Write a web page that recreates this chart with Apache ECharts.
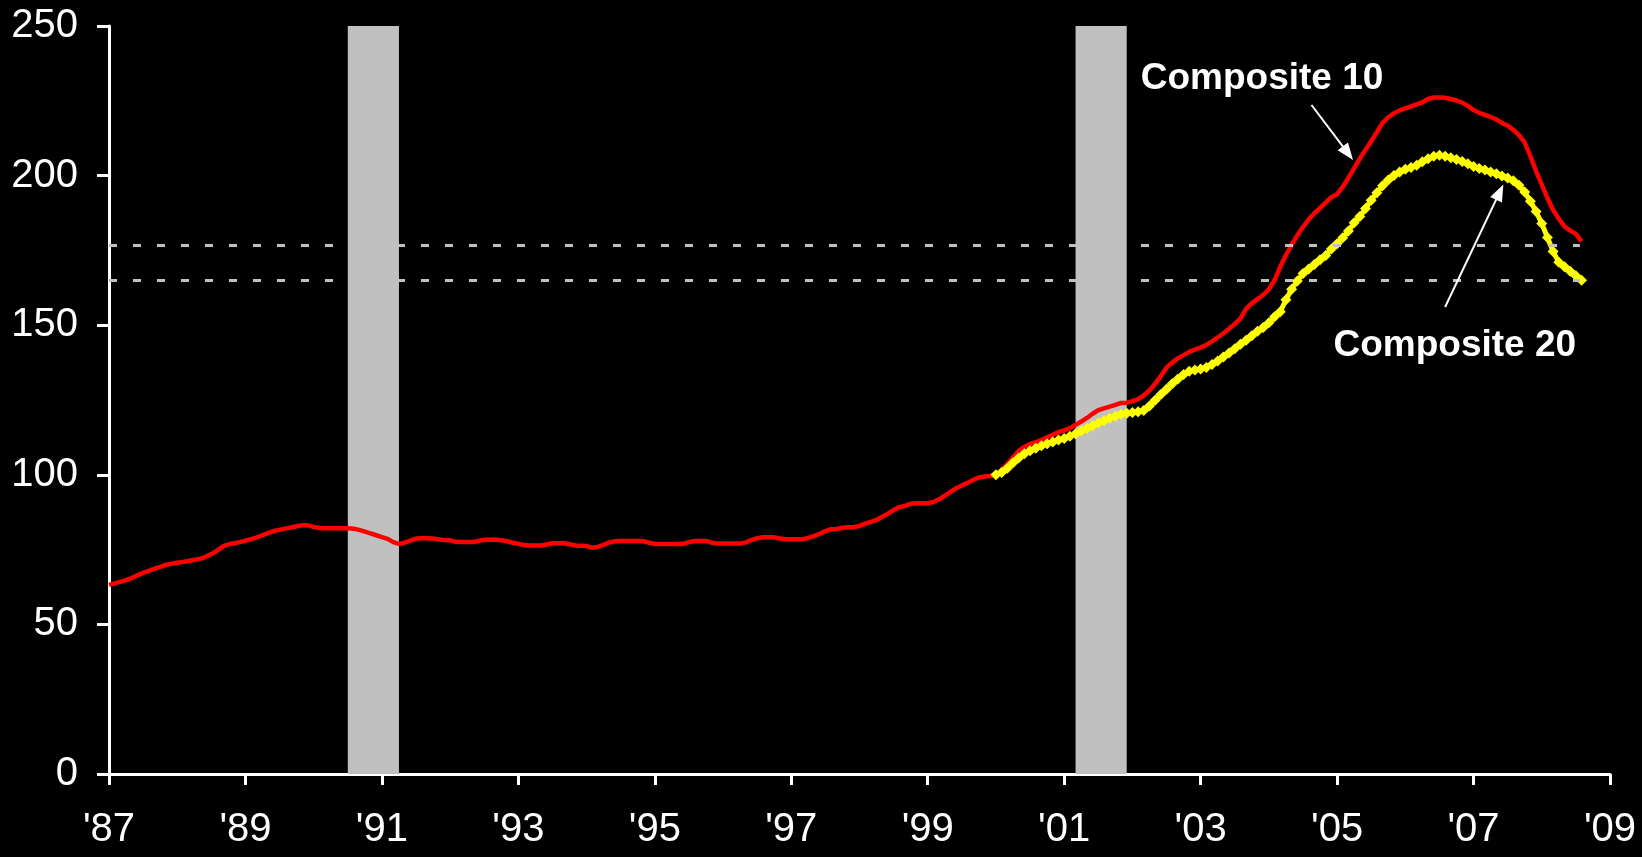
<!DOCTYPE html>
<html>
<head>
<meta charset="utf-8">
<script src="https://cdn.jsdelivr.net/npm/echarts@6/dist/echarts.min.js"></script>
<style>
  html, body { margin: 0; padding: 0; background: #000; }
  #chart { width: 1642px; height: 857px; }
</style>
</head>
<body>
<div id="chart"></div>
<script>
// x axis is months since Jan 1987, one tick every two years
var yearLabels = ["'87", "'89", "'91", "'93", "'95", "'97", "'99", "'01", "'03", "'05", "'07", "'09"]

// Composite 10, monthly, Jan 1987 - Aug 2008
var comp10 = [
  63.2, 63.7, 64.2, 64.8, 65.5, 66.4, 67.2, 67.9, 68.6, 69.2, 69.9, 70.3, // 1987
  70.6, 70.9, 71.2, 71.6, 71.9, 72.6, 73.5, 74.6, 76.0, 76.8, 77.1, 77.5, // 1988
  78.0, 78.5, 79.1, 79.8, 80.5, 81.2, 81.6, 82.0, 82.4, 82.8, 83.1, 83.1, // 1989
  82.6, 82.2, 82.1, 82.1, 82.1, 82.1, 82.1, 82.0, 81.6, 81.0, 80.4, 79.8, // 1990
  79.2, 78.6, 77.5, 76.9, 77.3, 78.0, 78.7, 78.8, 78.8, 78.7, 78.4, 78.2, // 1991
  78.1, 77.6, 77.5, 77.5, 77.5, 77.9, 78.3, 78.3, 78.3, 78.1, 77.8, 77.3, // 1992
  76.9, 76.5, 76.4, 76.4, 76.4, 76.7, 77.1, 77.1, 77.1, 76.8, 76.4, 76.3, // 1993
  76.2, 75.6, 75.9, 76.6, 77.4, 77.8, 77.9, 77.9, 77.9, 77.9, 77.8, 77.3, // 1994
  76.9, 76.9, 76.9, 76.9, 76.9, 76.9, 77.5, 77.9, 77.9, 77.9, 77.3, 77.0, // 1995
  77.0, 77.0, 77.0, 77.0, 77.4, 78.2, 78.8, 79.1, 79.1, 79.1, 78.7, 78.5, // 1996
  78.5, 78.5, 78.5, 78.9, 79.5, 80.3, 81.2, 81.8, 81.9, 82.3, 82.5, 82.5, // 1997
  82.9, 83.7, 84.3, 84.9, 86.0, 87.0, 88.2, 89.2, 89.6, 90.3, 90.5, 90.5, // 1998
  90.5, 90.9, 91.8, 93.0, 94.3, 95.5, 96.4, 97.3, 98.3, 99.1, 99.4, 99.6, // 1999
  100.2, 101.5, 103.6, 105.8, 108.0, 109.3, 110.3, 110.9, 111.6, 112.5, 113.4, 114.3, // 2000
  114.8, 115.6, 116.7, 117.8, 119.0, 120.4, 121.6, 122.2, 122.8, 123.4, 124.0, 124.1, // 2001
  124.6, 125.3, 126.5, 128.2, 130.4, 133.0, 135.8, 137.5, 138.9, 140.0, 141.1, 141.8, // 2002
  142.5, 143.4, 144.6, 145.9, 147.3, 148.8, 150.4, 152.2, 155.5, 157.3, 158.7, 160.1, // 2003
  162.0, 165.0, 169.5, 173.4, 176.8, 180.0, 182.8, 185.3, 187.4, 189.1, 191.0, 192.8, // 2004
  193.8, 196.2, 199.2, 202.5, 205.7, 208.6, 211.5, 214.5, 217.6, 219.5, 220.8, 221.8, // 2005
  222.5, 223.1, 223.8, 224.5, 225.6, 226.1, 226.1, 226.0, 225.6, 225.1, 224.4, 223.3, // 2006
  221.9, 221.0, 220.3, 219.6, 218.8, 217.6, 216.7, 215.3, 213.5, 211.0, 206.5, 201.5, // 2007
  197.0, 192.5, 188.5, 185.5, 183.0, 181.6, 180.5, 178.0 // 2008
]

// Composite 20, monthly, Jan 2000 - Aug 2008
var comp20Start = 156
var comp20 = [
  100.0, 100.8, 102.2, 104.0, 105.6, 107.0, 108.0, 108.9, 109.7, 110.4, 111.0, 111.6, // 2000
  112.1, 112.9, 113.7, 114.6, 115.5, 116.4, 117.3, 118.1, 118.9, 119.6, 120.2, 120.6, // 2001
  120.8, 121.1, 121.5, 123.0, 124.9, 126.8, 128.6, 130.4, 132.0, 133.5, 134.6, 135.0, // 2002
  135.4, 135.9, 136.9, 138.0, 139.4, 140.7, 142.1, 143.6, 145.0, 146.5, 148.0, 149.2, // 2003
  150.8, 152.8, 154.5, 158.5, 162.0, 164.8, 167.3, 168.8, 170.3, 171.9, 173.3, 175.5, // 2004
  177.2, 179.2, 181.5, 184.2, 186.3, 189.0, 191.8, 194.3, 196.6, 198.5, 200.0, 201.2, // 2005
  202.1, 202.7, 203.5, 204.6, 205.6, 206.5, 206.8, 206.5, 206.0, 205.4, 204.7, 204.0, // 2006
  203.0, 202.4, 201.9, 201.2, 200.6, 199.9, 199.2, 198.3, 196.8, 194.5, 191.4, 188.0, // 2007
  184.0, 179.3, 174.6, 171.0, 169.5, 168.0, 166.5, 165.0 // 2008
]

// recessions (month index start / end)
var recessions = [[42, 51], [170, 179]]
// reference levels drawn dashed
var refLevels = [176.8, 164.9]
var refEnd = 258.7

var FONT = 'Arial, "Liberation Sans", sans-serif'

function toPairs(arr, start) {
  return arr.map(function(v, i) { return [start + i, v] })
}

var chart = echarts.init(document.getElementById('chart'))

chart.setOption({
  backgroundColor: '#000',
  animation: false,
  grid: {
    left: 109,
    right: 32,
    top: 26,
    bottom: 83,
    containLabel: false
  },
  xAxis: {
    type: 'value',
    min: 0,
    max: 264,
    interval: 24,
    splitLine: { show: false },
    axisLine: { onZero: false, lineStyle: { color: '#fff', width: 3 } },
    axisTick: { show: true, length: 11, lineStyle: { color: '#fff', width: 3 } },
    axisLabel: {
      color: '#fff',
      fontSize: 40,
      fontFamily: FONT,
      margin: 36,
      formatter: function(v) { return yearLabels[Math.round(v / 24)] }
    }
  },
  yAxis: {
    type: 'value',
    min: 0,
    max: 250,
    interval: 50,
    splitLine: { show: false },
    axisLine: { show: true, lineStyle: { color: '#fff', width: 3 } },
    axisTick: { show: true, length: 12, lineStyle: { color: '#fff', width: 3 } },
    axisLabel: {
      color: '#fff',
      fontSize: 40,
      fontFamily: FONT,
      margin: 31
    }
  },
  series: [
    {
      name: 'Composite 10',
      type: 'line',
      data: toPairs(comp10, 0),
      showSymbol: false,
      z: 3,
      lineStyle: { color: '#ff0000', width: 4.5 },
      itemStyle: { color: '#ff0000' },
      markArea: {
        silent: true,
        z: 1,
        itemStyle: { color: '#c0c0c0' },
        data: recessions.map(function(r) {
          return [{ xAxis: r[0], yAxis: 0 }, { xAxis: r[1], yAxis: 250 }]
        })
      },
      markLine: {
        silent: true,
        symbol: ['none', 'none'],
        label: { show: false },
        lineStyle: { color: '#c0c0c0', width: 3, type: [8, 16] },
        data: refLevels.map(function(v) {
          return [{ coord: [0, v] }, { coord: [refEnd, v] }]
        })
      },
      markPoint: {
        silent: true,
        symbol: 'circle',
        symbolSize: 0,
        label: {
          show: true,
          position: 'inside',
          color: '#fff',
          fontSize: 37,
          fontWeight: 'bold',
          fontFamily: FONT,
          formatter: function(p) { return p.name }
        },
        data: [
          { name: 'Composite 10', coord: [202.8, 232.5] },
          { name: 'Composite 20', coord: [236.7, 143.2] }
        ]
      }
    },
    {
      name: 'Composite 20',
      type: 'line',
      data: toPairs(comp20, comp20Start),
      symbol: 'diamond',
      symbolSize: 11,
      showAllSymbol: true,
      z: 4,
      lineStyle: { color: '#ffff00', width: 5 },
      itemStyle: { color: '#ffff00' },
      markLine: {
        silent: true,
        symbol: ['none', 'triangle'],
        symbolSize: [13, 17],
        label: { show: false },
        lineStyle: { color: '#fff', width: 2, type: 'solid' },
        data: [
          [{ coord: [211.5, 223.6] }, { coord: [217.9, 207.5] }],
          [{ coord: [235.0, 156.1] }, { coord: [244.6, 194.5] }]
        ]
      }
    }
  ]
})
</script>
</body>
</html>
